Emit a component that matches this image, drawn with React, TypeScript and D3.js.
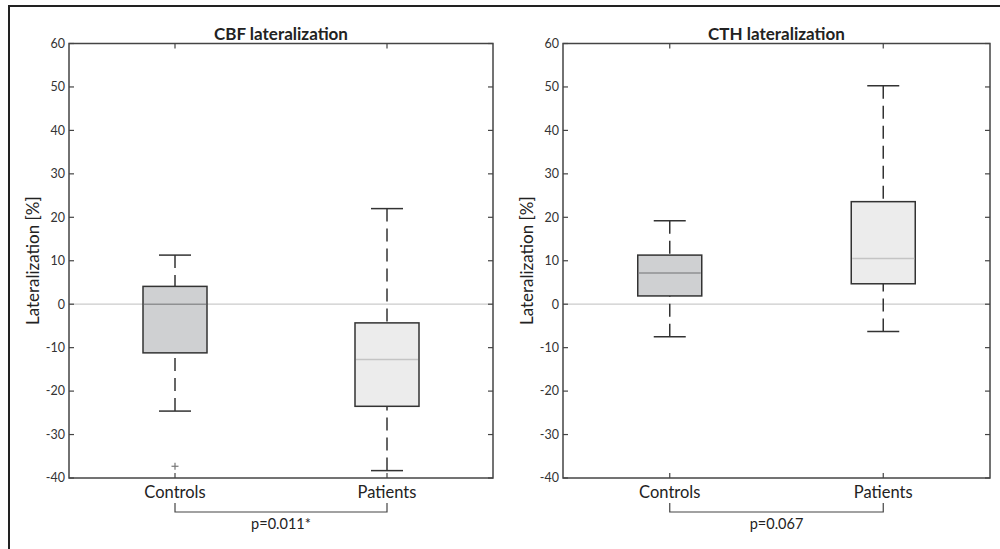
import * as d3 from "d3";
import React from "react";

// box stats per group: [lower whisker, q1, median, q3, upper whisker]
const groups = ["Controls", "Patients"];
const cbfControls = [-24.6, -11.2, 0.0, 4.1, 11.3];
const cbfPatients = [-38.3, -23.5, -12.7, -4.3, 22.0];
const cbfOutliers = [[-37.3], []];
const cthControls = [-7.5, 1.9, 7.2, 11.3, 19.2];
const cthPatients = [-6.3, 4.7, 10.5, 23.6, 50.3];
const cthOutliers = [[], []];
const yTicks = [-40, -30, -20, -10, 0, 10, 20, 30, 40, 50, 60];
const titles = ["CBF lateralization", "CTH lateralization"];
const pValues = ["p=0.011*", "p=0.067"];

const fillColors = ["#cfd0d2", "#ececec"];
const medianColors = ["#8f9092", "#c4c4c4"];
const FONT = "Lato, 'Open Sans', sans-serif";

type PanelProps = {
  left: number;
  right: number;
  title: string;
  boxes: number[][];
  outliers: number[][];
  pValue: string;
};

const top = 43.5;
const bottom = 478;

const Panel = ({ left, right, title, boxes, outliers, pValue }: PanelProps) => {
  const x = d3.scaleLinear().domain([0.5, 2.5]).range([left, right]);
  const y = d3.scaleLinear().domain([-40, 60]).range([bottom, top]);
  const boxW = 64;
  const capW = 32;
  const axisColor = "#444";
  const brTop = 503;
  const brBottom = 512;

  return (
    <g>
      <text x={(left + right) / 2} y={40} textAnchor="middle" fontFamily={FONT} fontWeight="bold" fontSize={17} fill="#222">
        {title}
      </text>
      {/* zero reference line */}
      <line x1={left} x2={right} y1={y(0)} y2={y(0)} stroke="#cbcbcb" strokeWidth={1.2} />

      {boxes.map((b, i) => {
        const cx = x(i + 1);
        return (
          <g key={i}>
            <line x1={cx} x2={cx} y1={y(b[4])} y2={y(b[3])} stroke="#333" strokeWidth={1.5} strokeDasharray="13,7" />
            <line x1={cx} x2={cx} y1={y(b[0])} y2={y(b[1])} stroke="#333" strokeWidth={1.5} strokeDasharray="13,7" />
            <line x1={cx - capW / 2} x2={cx + capW / 2} y1={y(b[4])} y2={y(b[4])} stroke="#333" strokeWidth={1.5} />
            <line x1={cx - capW / 2} x2={cx + capW / 2} y1={y(b[0])} y2={y(b[0])} stroke="#333" strokeWidth={1.5} />
            <rect x={cx - boxW / 2} y={y(b[3])} width={boxW} height={y(b[1]) - y(b[3])} fill={fillColors[i]} stroke="#333" strokeWidth={1.5} />
            <line x1={cx - boxW / 2 + 1} x2={cx + boxW / 2 - 1} y1={y(b[2])} y2={y(b[2])} stroke={medianColors[i]} strokeWidth={1.5} />
            {outliers[i].map((o, j) => (
              <g key={j} stroke="#777" strokeWidth={1.2}>
                <line x1={cx - 3.5} x2={cx + 3.5} y1={y(o)} y2={y(o)} />
                <line x1={cx} x2={cx} y1={y(o) - 3.5} y2={y(o) + 3.5} />
              </g>
            ))}
          </g>
        );
      })}

      {/* axes frame */}
      <rect x={left} y={top} width={right - left} height={bottom - top} fill="none" stroke={axisColor} strokeWidth={1.5} />
      {yTicks.map((t) => (
        <g key={t}>
          <line x1={left} x2={left + 5} y1={y(t)} y2={y(t)} stroke={axisColor} strokeWidth={1.2} />
          <line x1={right} x2={right - 5} y1={y(t)} y2={y(t)} stroke={axisColor} strokeWidth={1.2} />
          <text x={left - 4} y={y(t)} dy="0.35em" textAnchor="end" fontFamily={FONT} fontSize={12.5} fill="#333">
            {t}
          </text>
        </g>
      ))}
      {groups.map((g, i) => (
        <g key={g}>
          <line x1={x(i + 1)} x2={x(i + 1)} y1={bottom} y2={bottom - 5} stroke={axisColor} strokeWidth={1.2} />
          <line x1={x(i + 1)} x2={x(i + 1)} y1={top} y2={top + 5} stroke={axisColor} strokeWidth={1.2} />
          <text x={x(i + 1)} y={498} textAnchor="middle" fontFamily={FONT} fontSize={16.5} fill="#222">
            {g}
          </text>
        </g>
      ))}
      <text
        transform={`translate(${left - 30},${(top + bottom) / 2}) rotate(-90)`}
        textAnchor="middle"
        fontFamily={FONT}
        fontSize={17}
        fill="#222"
      >
        Lateralization [%]
      </text>

      {/* significance bracket */}
      <path
        d={`M${x(1)},${brTop}V${brBottom}H${x(2)}V${brTop}`}
        fill="none"
        stroke={axisColor}
        strokeWidth={1.2}
      />
      <text x={(x(1) + x(2)) / 2} y={529} textAnchor="middle" fontFamily={FONT} fontSize={14.5} fill="#222">
        {pValue}
      </text>
    </g>
  );
};

export default function App() {
  return (
    <svg width={1000} height={549} style={{ position: "absolute", left: 0, top: 0, background: "#fff" }}>
      <rect width={1000} height={549} fill="#fff" />
      {/* figure border (top and left) */}
      <path d="M9,549V6H1000" fill="none" stroke="#222" strokeWidth={2} />
      <Panel left={69} right={493} title={titles[0]} boxes={[cbfControls, cbfPatients]} outliers={cbfOutliers} pValue={pValues[0]} />
      <Panel left={563} right={990} title={titles[1]} boxes={[cthControls, cthPatients]} outliers={cthOutliers} pValue={pValues[1]} />
    </svg>
  );
}
